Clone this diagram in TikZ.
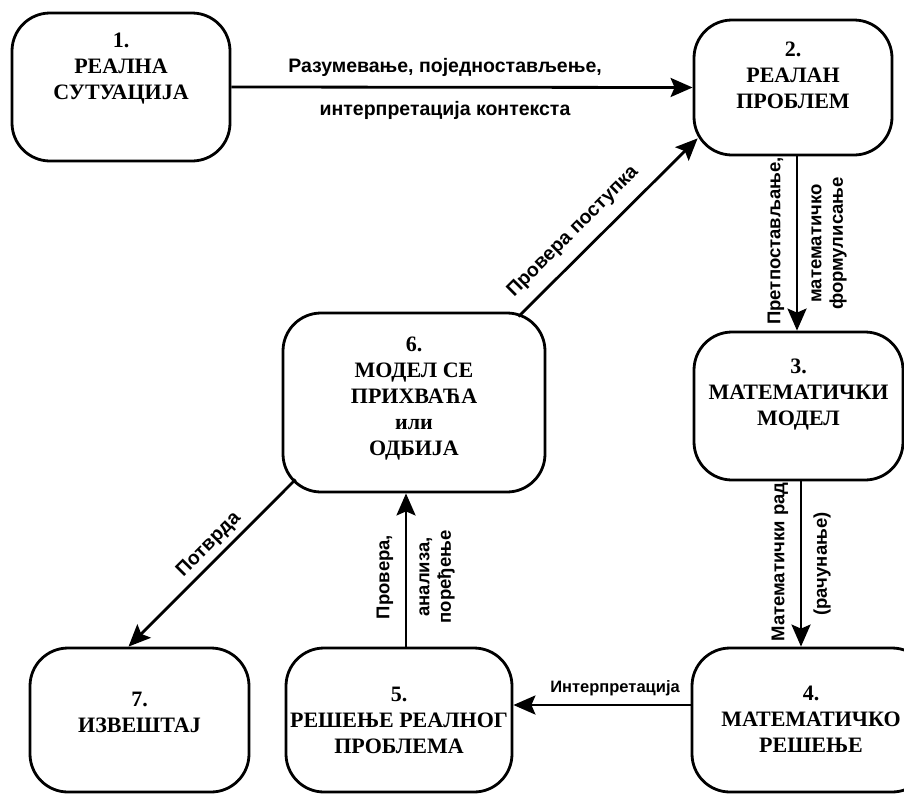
\documentclass[tikz,border=0pt]{standalone}
\usepackage{fontspec}
\setmainfont{Liberation Serif}
\newfontfamily\lblfont{Liberation Sans}
\usetikzlibrary{arrows.meta}

\begin{document}
\begin{tikzpicture}[
          x=1pt, y=-1pt,
          box/.style={draw, line width=2.8pt, rounded corners=38pt},
          boxtxt/.style={align=center, font=\bfseries\fontsize{22}{26}\selectfont},
          arr/.style={line width=2.8pt, -{Stealth[length=22pt,width=19pt,inset=4pt]}},
          lbl/.style={align=center, font=\lblfont\bfseries\fontsize{19.5}{22}\selectfont},
          lblv/.style={lbl, rotate=90, font=\lblfont\bfseries\fontsize{18.5}{21.5}\selectfont},
          lblsmall/.style={lbl, font=\lblfont\bfseries\fontsize{16.5}{19}\selectfont}
      ]
        \useasboundingbox (0,0) rectangle (904,798);
        % boxes
        \node[box, minimum width=218pt, minimum height=148pt] (b1) at (121,87) {};
        \node[box, minimum width=198pt, minimum height=135pt] (b2) at (793,87.5) {};
        \node[box, minimum width=209pt, minimum height=148pt] (b3) at (798.5,406) {};
        \node[box, minimum width=238pt, minimum height=144pt] (b4) at (811,720) {};
        \node[box, minimum width=226pt, minimum height=144pt] (b5) at (399,720) {};
        \node[box, minimum width=262pt, minimum height=179pt] (b6) at (414,402.5) {};
        \node[box, minimum width=219pt, minimum height=144pt] (b7) at (139.5,720) {};
        % box texts
        \node[boxtxt] (t1) at ([yshift=18pt]b1.center) {1.\\РЕАЛНА\\СУТУАЦИЈА};
        \node[boxtxt] (t2) at ([yshift=12.5pt]b2.center) {2.\\РЕАЛАН\\ПРОБЛЕМ};
        \node[boxtxt] (t3) at ([yshift=11pt]b3.center) {3.\\МАТЕМАТИЧКИ\\МОДЕЛ};
        \node[boxtxt] (t4) at ([yshift=1pt]b4.center) {4.\\МАТЕМАТИЧКО\\РЕШЕЊЕ};
        \node[boxtxt] (t5) at (b5.center) {5.\\РЕШЕЊЕ РЕАЛНОГ\\ПРОБЛЕМА};
        \node[boxtxt] (t6) at ([yshift=3.5pt]b6.center) {6.\\МОДЕЛ СЕ\\ПРИХВАЋА\\или\\ОДБИЈА};
        \node[boxtxt] (t7) at ([yshift=8pt]b7.center) {7.\\ИЗВЕШТАЈ};
        % 1 -> 2
        \draw[arr] (b1.east) -- (b2.west)
            node[lbl, midway, xshift=-17pt, yshift=19.5pt] {Разумевање, поједностављење,}
            node[lbl, midway, xshift=-17pt, yshift=-23.5pt] {интерпретација контекста};
        % 2 -> 3
        \draw[arr] ([xshift=4pt]b2.south) -- ([xshift=-1.5pt]b3.north)
            node[midway, xshift=-21pt, yshift=2.5pt, lblv] {Претпостављање,}
            node[midway, xshift=32pt, lblv] {математичко\\формулисање};
        % 3 -> 4
        \draw[arr] ([xshift=2.5pt]b3.south) -- ([xshift=-10pt]b4.north)
            node[midway, xshift=-21pt, yshift=2pt, lblv] {Математички рад}
            node[midway, xshift=21pt, lblv] {(рачунање)};
        % 4 -> 5
        \draw[arr] ([yshift=15pt]b4.west) -- ([yshift=15pt]b5.east)
            node[lblsmall, midway, xshift=13pt, yshift=17pt] {Интерпретација};
        % 5 -> 6
        \draw[arr] ([xshift=7pt]b5.north) -- ([xshift=-8pt]b6.south)
            node[midway, xshift=-21pt, yshift=-7pt, lblv] {Провера,}
            node[midway, xshift=31pt, yshift=-7pt, lblv] {анализа,\\поређење};
        % 6 -> 2 and 6 -> 7
        \draw[arr] ([xshift=-28pt,yshift=-5pt]b6.north east) -- ([xshift=5pt,yshift=18pt]b2.south west)
            node[lbl, pos=0.39, sloped, above=8pt] {Провера поступка};
        \draw[arr] ([xshift=14pt,yshift=14pt]b6.south west) -- ([xshift=-11pt]b7.north)
            node[lbl, pos=0.455, sloped, above=1.5pt] {Потврда};
      \end{tikzpicture}
\end{document}
